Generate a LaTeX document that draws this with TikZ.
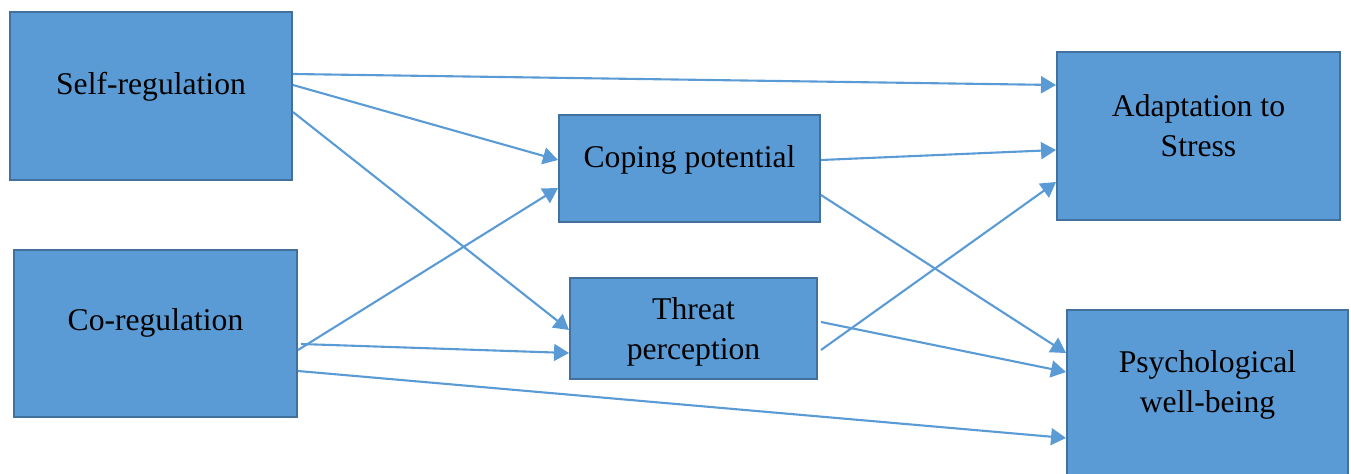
\documentclass[tikz,border=0pt]{standalone}
\usepackage{fontspec}
\setmainfont{Liberation Serif}
\usepackage{tikz}
\usetikzlibrary{arrows.meta,calc}
\definecolor{BoxBlue}{RGB}{91, 155, 213}
\definecolor{BoxEdge}{RGB}{65, 113, 156}

\tikzset{
    block/.style = {draw = BoxEdge, fill = BoxBlue, line width = 1.1pt,
        align = center, font = \fontsize{18}{23}\selectfont},
    path/.style = {draw = BoxBlue, line width = 1.2pt,
        -{Triangle[length = 0.3cm, width = 0.34cm]}}
}

\begin{document}
\begin{tikzpicture}[scale=1]
    \clip (0,0) rectangle (27.02,9.46);
    % Predictors
    \node[block, minimum width = 5.64cm, minimum height = 3.36cm, text depth = 0.52cm]
    (selfreg) at (3.02,7.54) {Self-regulation};
    \node[block, minimum width = 5.66cm, minimum height = 3.34cm, text depth = 0.54cm]
    (coreg) at (3.11,2.79) {Co-regulation};
    % Mediators
    \node[block, minimum width = 5.22cm, minimum height = 2.14cm, text depth = 0.48cm]
    (coping) at (13.79,6.09) {Coping potential};
    \node[block, minimum width = 4.94cm, minimum height = 2.02cm, text depth = 0cm]
    (threat) at (13.87,2.89) {Threat\\perception};
    % Outcomes
    \node[block, minimum width = 5.66cm, minimum height = 3.36cm, text depth = 0.42cm]
    (adapt) at (23.97,6.74) {Adaptation to\\Stress};
    \node[block, minimum width = 5.62cm, minimum height = 3.36cm, text depth = 0.50cm]
    (wellbeing) at (24.15,1.58) {Psychological\\well-being};

    % Paths
    \draw[path] ([yshift = 0.44cm]selfreg.east) to ([yshift = 1.02cm]adapt.west);
    \draw[path] ([yshift = 0.22cm]selfreg.east) to ([yshift = 0.17cm]coping.west);
    \draw[path] ([yshift = -0.32cm]selfreg.east) to ([yshift = -0.03cm]threat.west);
    \draw[path] ([yshift = -0.33cm]coreg.east) to ([yshift = -0.39cm]coping.west);
    \draw[path] ([xshift = 0.06cm, yshift = -0.21cm]coreg.east) to ([yshift = -0.49cm]threat.west);
    \draw[path] ([yshift = -0.75cm]coreg.east) to ([yshift = -0.88cm]wellbeing.west);
    \draw[path] ([yshift = 0.17cm]coping.east) to ([yshift = -0.28cm]adapt.west);
    \draw[path] ([yshift = -0.53cm]coping.east) to ([yshift = 0.82cm]wellbeing.west);
    \draw[path] ([xshift = 0.06cm, yshift = -0.43cm]threat.east) to ([yshift = -0.92cm]adapt.west);
    \draw[path] ([xshift = 0.06cm, yshift = 0.13cm]threat.east) to ([yshift = 0.44cm]wellbeing.west);
\end{tikzpicture}
\end{document}
